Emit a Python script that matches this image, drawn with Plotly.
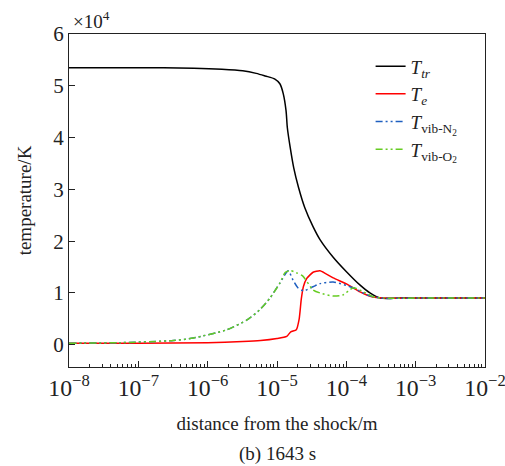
import plotly.graph_objects as go

# distance from the shock (m) and temperatures (K)
tr_x = [1e-8, 1e-7, 6.3e-7, 1.6e-6, 3.2e-6, 5.01e-6, 6.76e-6, 9.33e-6, 1.10e-5, 1.23e-5,
        1.35e-5, 1.41e-5, 1.55e-5, 1.74e-5, 2.04e-5, 2.51e-5, 3.31e-5, 4.17e-5, 6.46e-5,
        1.02e-4, 1.58e-4, 2.19e-4, 3.09e-4, 6.3e-4, 1e-2]
tr_T = [53500, 53500, 53400, 53200, 52900, 52400, 51900, 51300, 50400, 48500,
        45200, 41900, 38100, 34200, 30400, 26500, 22800, 20300, 16900,
        14000, 11500, 10000, 9000, 9000, 9000]

e_x = [1e-8, 1e-7, 1e-6, 3.2e-6, 5.8e-6, 1e-5, 1.38e-5, 1.58e-5, 1.9e-5, 2.09e-5,
       2.24e-5, 2.4e-5, 2.69e-5, 3.31e-5, 4.17e-5, 6.46e-5, 1.02e-4, 1.58e-4,
       2.4e-4, 3.5e-4, 1e-3, 1e-2]
e_T = [300, 300, 400, 600, 800, 1200, 1600, 2500, 2900, 5000,
       8800, 11200, 12800, 14000, 14300, 12900, 11700, 10200,
       9200, 9000, 9000, 9000]

n2_x = [1e-8, 5.5e-8, 3.2e-7, 6.2e-7, 1.9e-6, 3.7e-6, 5.6e-6, 7.9e-6, 1.1e-5, 1.45e-5,
        1.7e-5, 2.0e-5, 2.4e-5, 3.31e-5, 4.17e-5, 6.46e-5, 1.26e-4, 2.0e-4,
        3.2e-4, 1e-3, 1e-2]
n2_T = [300, 400, 800, 1300, 2900, 4800, 6700, 9000, 11900, 14300,
        12500, 11000, 10400, 11200, 11800, 12100, 11000, 9600,
        9000, 9000, 9000]

o2_x = [1e-8, 5.5e-8, 3.2e-7, 6.2e-7, 1.9e-6, 3.7e-6, 5.6e-6, 7.9e-6, 1.1e-5, 1.32e-5,
        1.58e-5, 1.9e-5, 2.34e-5, 3.31e-5, 4.17e-5, 6.46e-5, 8.9e-5, 1.26e-4, 1.78e-4,
        2.5e-4, 3.5e-4, 1e-3, 1e-2]
o2_T = [300, 400, 800, 1300, 2900, 4800, 6700, 9000, 11900, 14000,
        14300, 13900, 13300, 10600, 10000, 9400, 9600, 11000, 10200,
        9200, 9000, 9000, 9000]

y_ticks = [0, 10000, 20000, 30000, 40000, 50000, 60000]
y_ticktext = ["0", "1", "2", "3", "4", "5", "6"]

FONT = "Liberation Serif"
dashdotdot = "7px,3px,2px,3px,2px,3px"

fig = go.Figure()
fig.add_trace(go.Scatter(x=tr_x, y=tr_T, mode="lines", name="<i>T</i><sub><i>tr</i></sub>",
                         line=dict(color="#000000", width=1.5, shape="spline", smoothing=0.8)))
fig.add_trace(go.Scatter(x=e_x, y=e_T, mode="lines", name="<i>T</i><sub><i>e</i></sub>",
                         line=dict(color="#ff0000", width=1.5, shape="spline", smoothing=0.5)))
fig.add_trace(go.Scatter(x=n2_x, y=n2_T, mode="lines", name="<i>T</i><sub>vib-N<sub>2</sub></sub>",
                         line=dict(color="#1f5fc0", width=1.5, dash=dashdotdot, shape="spline", smoothing=0.6)))
fig.add_trace(go.Scatter(x=o2_x, y=o2_T, mode="lines", name="<i>T</i><sub>vib-O<sub>2</sub></sub>",
                         line=dict(color="#66cc22", width=1.5, dash=dashdotdot, shape="spline", smoothing=0.6)))

fig.update_layout(
    width=505, height=466,
    margin=dict(l=69, r=20, t=34, b=99, autoexpand=False),
    paper_bgcolor="white", plot_bgcolor="white",
    font=dict(family=FONT, size=17, color="#222222"),
    showlegend=True,
    legend=dict(x=0.725, y=0.96, xanchor="left", yanchor="top",
                bgcolor="rgba(0,0,0,0)", borderwidth=0,
                font=dict(family=FONT, size=19), tracegroupgap=0),
    xaxis=dict(type="log", range=[-8, -2], dtick=1, exponentformat="power",
               showgrid=False, zeroline=False, automargin=False, ticklabeloverflow="allow",
               showline=True, linecolor="#222222", linewidth=1.2, mirror=True,
               ticks="inside", ticklen=6, tickwidth=1, tickcolor="#222222",
               minor=dict(ticks="inside", ticklen=3, tickcolor="#222222", showgrid=False),
               tickfont=dict(family=FONT, size=19),
               title=dict(text="distance from the shock/m", font=dict(family=FONT, size=19), standoff=17)),
    yaxis=dict(range=[-4300, 60000], tickvals=y_ticks, ticktext=y_ticktext,
               showgrid=False, zeroline=False, automargin=False,
               showline=True, linecolor="#222222", linewidth=1.2, mirror=True,
               ticks="inside", ticklen=6, tickwidth=1, tickcolor="#222222",
               tickfont=dict(family=FONT, size=21),
               title=dict(text="temperature/K", font=dict(family=FONT, size=19), standoff=16)),
    annotations=[
        dict(text="×10<sup>4</sup>", x=0, y=1, xref="paper", yref="paper",
             xanchor="left", yanchor="bottom", showarrow=False, xshift=2, yshift=0,
             font=dict(family=FONT, size=19, color="#222222")),
        dict(text="(b) 1643 s", x=0.5, y=0, xref="paper", yref="paper",
             xanchor="center", yanchor="top", showarrow=False, yshift=-74,
             font=dict(family=FONT, size=19, color="#222222")),
    ],
)

fig.write_html("out.html")
